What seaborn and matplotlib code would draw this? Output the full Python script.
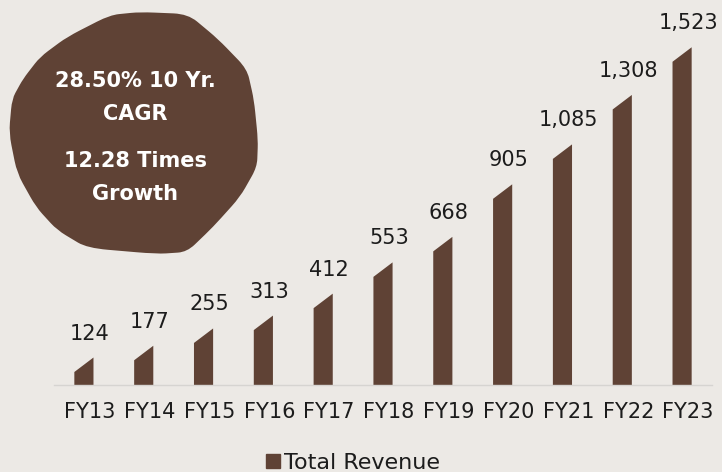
import matplotlib
matplotlib.use("Agg")
import matplotlib.pyplot as plt
import matplotlib.transforms as mtransforms
from matplotlib.patches import Polygon, PathPatch
from matplotlib.path import Path
from matplotlib.lines import Line2D
import pandas as pd
import seaborn as sns

# ---- data -------------------------------------------------------------
years = ["FY13", "FY14", "FY15", "FY16", "FY17", "FY18",
         "FY19", "FY20", "FY21", "FY22", "FY23"]
revenue = [124, 177, 255, 313, 412, 553, 668, 905, 1085, 1308, 1523]
series_name = "Total Revenue"
badge_lines = ["28.50% 10 Yr.", "CAGR", "12.28 Times", "Growth"]

# ---- style ------------------------------------------------------------
BROWN = "#5F4235"
BG = "#ECE9E5"
TEXT = "#1C1C1C"

sns.set_theme(style="white")
plt.rcParams["font.family"] = ["DejaVu Sans"]

W, H = 722, 472
fig = plt.figure(figsize=(W / 100, H / 100), dpi=100, facecolor=BG)
ax = fig.add_axes([54 / W, 87 / H, 658 / W, 377 / H])
ax.set_facecolor("none")

df = pd.DataFrame({"year": years, "revenue": revenue})
sns.barplot(data=df, x="year", y="revenue", color=BROWN, saturation=1,
            width=0.32, ax=ax)
ax.set_xlim(-0.5, len(years) - 0.5)
ax.set_ylim(0, 1700)

# chamfered bar tops: left edge lower than the right edge by a fixed pixel amount
units_per_px = 1700 / ax.bbox.height
cut = 14.5 * units_per_px
for p in list(ax.patches):
    x, w, h = p.get_x(), p.get_width(), p.get_height()
    ax.add_patch(Polygon([(x, 0), (x + w, 0), (x + w, h), (x, h - cut)],
                         closed=True, facecolor=BROWN, edgecolor="none",
                         zorder=2))
    p.remove()

# value labels
for i, v in enumerate(revenue):
    ax.annotate(f"{v:,}", xy=(i, v), xytext=(6, 18),
                textcoords="offset pixels", ha="center", va="baseline",
                fontsize=15, color=TEXT)

# axes cosmetics
for side in ("top", "right", "left"):
    ax.spines[side].set_visible(False)
ax.spines["bottom"].set_color("#D6D4D1")
ax.spines["bottom"].set_linewidth(1.0)
ax.set_yticks([])
ax.set_xlabel("")
ax.set_ylabel("")
ax.tick_params(axis="x", length=0, pad=12, labelsize=15, labelcolor=TEXT)
shift = mtransforms.ScaledTranslation(6 / 100, 0, fig.dpi_scale_trans)
for lbl in ax.get_xticklabels():
    lbl.set_transform(lbl.get_transform() + shift)

# legend
handle = Line2D([], [], linestyle="none", marker="s", markersize=9.5,
                markerfacecolor=BROWN, markeredgecolor=BROWN)
fig.legend([handle], [series_name], loc="center",
           bbox_to_anchor=(352 / W, 1 - 463 / H), frameon=False,
           fontsize=16, handletextpad=0.1, handlelength=0.8,
           labelcolor=TEXT)

# badge blob: polygon outline with softened corners
blob_px = [(110, 15), (140, 12), (188, 14), (218, 39), (247, 69), (254, 100),
           (258, 140), (257, 167), (240, 197), (213, 227), (187, 252),
           (157, 254), (87, 248), (57, 230), (36, 207), (17, 173),
           (9, 133), (12, 99), (23, 79), (40, 57), (67, 37)]
pts = [(x / W, 1 - y / H) for x, y in blob_px]
n = len(pts)
t = 0.3


def lerp(a, b, f):
    return (a[0] + f * (b[0] - a[0]), a[1] + f * (b[1] - a[1]))


verts, codes = [], []
for i in range(n):
    p, prev, nxt = pts[i], pts[i - 1], pts[(i + 1) % n]
    a, b = lerp(p, prev, t), lerp(p, nxt, t)
    verts += [a, p, b]
    codes += [Path.MOVETO if i == 0 else Path.LINETO, Path.CURVE3, Path.CURVE3]
verts.append(verts[0])
codes.append(Path.CLOSEPOLY)
fig.add_artist(PathPatch(Path(verts, codes), facecolor=BROWN,
                         edgecolor="none", transform=fig.transFigure,
                         zorder=1))
baselines = [87, 120, 167, 200]
for txt, yb in zip(badge_lines, baselines):
    fig.text(135 / W, 1 - yb / H, txt, ha="center", va="baseline",
             fontsize=15, fontweight="bold", color="white", zorder=3)

fig.savefig("out.png", dpi=100, facecolor=BG)
